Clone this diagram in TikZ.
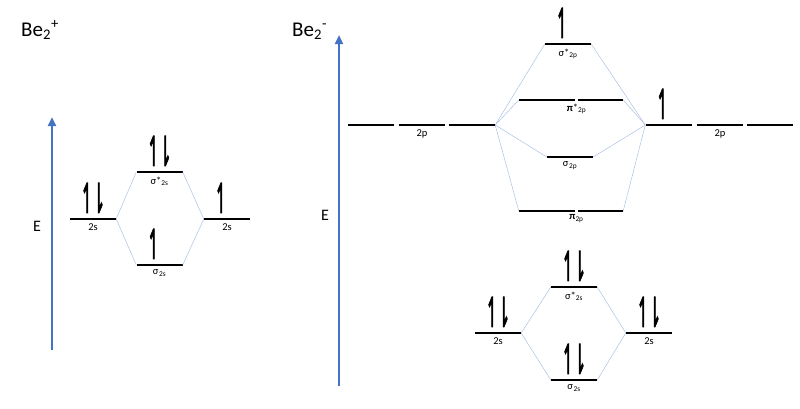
\documentclass[tikz,border=0pt]{standalone}
\usepackage{fontspec}
\setmainfont{Carlito}
\newfontface\harpfont[FakeBold=3]{DejaVu Sans}
\usepackage{graphicx}
\usepackage{xcolor}
\definecolor{eaxis}{RGB}{68,114,196}
\definecolor{corrline}{RGB}{165,188,226}
\usetikzlibrary{arrows.meta,positioning,calc}
\newcommand{\harp}[1]{\scalebox{0.7}[1.7]{#1}}
\newcommand{\epair}{\harp{↿}\kern-2.5pt\harp{⇂}}
\newcommand{\eone}{\harp{↿}\kern-2.5pt\phantom{\harp{⇂}}}

\begin{document}
\begin{tikzpicture}[x=1pt, y=-1pt,
  lvl/.style={
    rectangle, fill=black, inner sep=0pt,
    minimum height=1.7pt, minimum width=#1
  },
  lvl/.default=46pt,
  lab/.style={font=\fontsize{10.5}{12}\selectfont, inner sep=1pt, label distance=2.5pt},
  elec/.style={font=\harpfont\fontsize{24}{24}\selectfont, inner sep=0pt, label distance=5pt},
  corr/.style={line width=0.45pt, color=corrline},
  eax/.style={-{Triangle[length=9pt,width=8pt]}, line width=2.6pt, color=eaxis},
  title/.style={font=\fontsize{21}{24}\selectfont, anchor=base west, inner sep=0pt}
]
\useasboundingbox (0,0) rectangle (800,408);

% Be2+
\node[title] (t1) at (21,36) {Be\textsubscript{2}\textsuperscript{+}};
\coordinate (ea1) at (52,350);
\coordinate (eb1) at (52,117);
\draw[eax] (ea1) -- (eb1);
\node[font=\fontsize{16}{18}\selectfont] (e1) at (37,226) {E};

\node[lvl, label={[lab]below:2s}, label={[elec]above:\epair}] (la) at (93,219) {};
\node[lvl, label={[lab]below:σ*\textsubscript{2s}}, label={[elec]above:\epair}] (lss) at (159.5,172) {};
\node[lvl, label={[lab]below:2s}, label={[elec]above:\eone}] (lb) at (227,219) {};
\node[lvl, label={[lab]below:σ\kern0.8pt\textsubscript{2s}}, label={[elec]above:\eone}] (ls) at (159.5,265) {};

\foreach \a/\b in {la/lss,la/ls} {
  \draw[corr] (\a.east) -- (\b.west);
}
\foreach \a/\b in {lb/lss,lb/ls} {
  \draw[corr] (\a.west) -- (\b.east);
}

% Be2-
\node[title] (t2) at (292,36) {Be\textsubscript{2}\textsuperscript{-}};
\coordinate (ea2) at (339,386);
\coordinate (eb2) at (339,35);
\draw[eax] (ea2) -- (eb2);
\node[font=\fontsize{16}{18}\selectfont] (e2) at (325,215) {E};

% 2p
\node[lvl] (pa1) at (371,125) {};
\node[lvl, label={[lab]below:2p}] (pa2) at (422,125) {};
\node[lvl] (pa3) at (472,125) {};
\node[lvl, label={[elec]above:\eone}] (pb1) at (668.5,125) {};
\node[lvl, label={[lab]below:2p}] (pb2) at (720,125) {};
\node[lvl] (pb3) at (770,125) {};

\node[lvl, label={[lab]below:σ*\textsubscript{2p}}, label={[elec]above:\eone}] (sps) at (568,44) {};
\node[lvl=56pt] (pps1) at (547,100) {};
\node[lvl=45pt] (pps2) at (600.5,100) {};
\node[lvl, label={[lab]below:σ\kern0.8pt\textsubscript{2p}}] (sp) at (570,157) {};
\node[lvl=56pt] (pp1) at (547,211) {};
\node[lvl=45pt] (pp2) at (600.5,211) {};
\node[lab, below=2.5pt] (ppsl) at ($(pps1.east)!0.5!(pps2.west)$) {\textbf{π}*\textsubscript{2p}};
\node[lab, below=2.5pt] (ppl) at ($(pp1.east)!0.5!(pp2.west)$) {\textbf{π}\textsubscript{2p}};

\foreach \b in {sps,pps1,sp,pp1} {
  \draw[corr] (pa3.east) -- (\b.west);
}
\foreach \b in {sps,pps2,sp,pp2} {
  \draw[corr] (pb1.west) -- (\b.east);
}

% 2s
\node[lvl, label={[lab]below:2s}, label={[elec]above:\epair}] (ra) at (498,333) {};
\node[lvl, label={[lab]below:σ*\textsubscript{2s}}, label={[elec]above:\epair}] (rss) at (574,287) {};
\node[lvl, label={[lab]below:2s}, label={[elec]above:\epair}] (rb) at (649,333) {};
\node[lvl, label={[lab]below:σ\kern0.8pt\textsubscript{2s}}, label={[elec]above:\epair}] (rs) at (574,380) {};

\foreach \a/\b in {ra/rss,ra/rs} {
  \draw[corr] (\a.east) -- (\b.west);
}
\foreach \a/\b in {rb/rss,rb/rs} {
  \draw[corr] (\a.west) -- (\b.east);
}
\end{tikzpicture}
\end{document}
